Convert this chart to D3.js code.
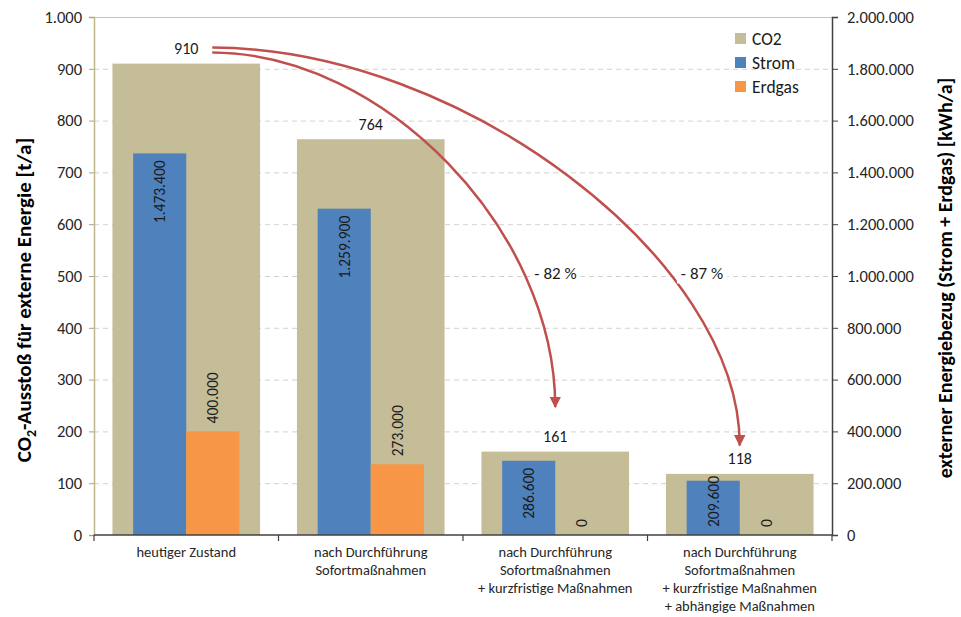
<!DOCTYPE html>
<html>
<head>
<meta charset="utf-8">
<script src="https://cdn.jsdelivr.net/npm/d3@7"></script>
<style>
  html, body { margin: 0; padding: 0; background: #fff; }
  svg { display: block; font-family: Carlito, Calibri, Lato, sans-serif; }
</style>
</head>
<body>
<svg id="chart" width="961" height="617"></svg>
<script>
// Scenario categories (multi-line axis labels)
const categories = [
  ["heutiger Zustand"],
  ["nach Durchführung", "Sofortmaßnahmen"],
  ["nach Durchführung", "Sofortmaßnahmen", "+ kurzfristige Maßnahmen"],
  ["nach Durchführung", "Sofortmaßnahmen", "+ kurzfristige Maßnahmen", "+ abhängige Maßnahmen"]
];
// CO2 emissions [t/a] (left axis)
const co2 = [910, 764, 161, 118];
// External energy supply [kWh/a] (right axis)
const strom = [1473400, 1259900, 286600, 209600];
const erdgas = [400000, 273000, 0, 0];
// Axis ticks
const leftTicks = [0, 100, 200, 300, 400, 500, 600, 700, 800, 900, 1000];
const rightTicks = [0, 200000, 400000, 600000, 800000, 1000000, 1200000, 1400000, 1600000, 1800000, 2000000];
// Reduction arrows: scenario indices and the t/a level where the arrow tip points
const reductions = [{ from: 0, to: 2, tip: 247 }, { from: 0, to: 3, tip: 173 }];
// Legend entries
const seriesNames = ["CO2", "Strom", "Erdgas"];
const seriesColors = ["#C4BD97", "#4F81BD", "#F79646"];

const de = d3.formatLocale({ decimal: ",", thousands: ".", grouping: [3], currency: ["", " €"] });
const fmt = de.format(",d");

const svg = d3.select("#chart");
const m = { left: 94, right: 832, top: 17, bottom: 535 };
const keys = categories.map((d, i) => i);

const x = d3.scaleBand().domain(keys).range([m.left, m.right]).paddingInner(0.2).paddingOuter(0.1);
const xSub = d3.scaleBand().domain(["strom", "erdgas"]).range([0, x.bandwidth()]).paddingOuter(0.39);
const yL = d3.scaleLinear().domain([0, 1000]).range([m.bottom, m.top]);
const yR = d3.scaleLinear().domain([0, 2000000]).range([m.bottom, m.top]);

// Gridlines
svg.append("g").selectAll("line").data(leftTicks.filter(t => t > 0)).join("line")
  .attr("x1", m.left).attr("x2", m.right)
  .attr("y1", d => yL(d) + 0.5).attr("y2", d => yL(d) + 0.5)
  .attr("stroke", d => d === 1000 ? "#c4c4c4" : "#d2d2d2")
  .attr("stroke-width", 1)
  .attr("stroke-dasharray", d => d === 1000 ? null : "5,4");

// CO2 bars
svg.append("g").selectAll("rect").data(co2).join("rect")
  .attr("x", (d, i) => x(i)).attr("width", x.bandwidth())
  .attr("y", d => yL(d)).attr("height", d => yL(0) - yL(d))
  .attr("fill", seriesColors[0]);

// Strom / Erdgas bars
const energy = keys.map(i => [
  { key: "strom", v: strom[i], i, color: seriesColors[1] },
  { key: "erdgas", v: erdgas[i], i, color: seriesColors[2] }
]).flat();

svg.append("g").selectAll("rect").data(energy).join("rect")
  .attr("x", d => x(d.i) + xSub(d.key)).attr("width", xSub.bandwidth())
  .attr("y", d => yR(d.v)).attr("height", d => yR(0) - yR(d.v))
  .attr("fill", d => d.color);

// Energy value labels, rotated to read bottom-to-top
const eLab = svg.append("g").attr("font-size", 15.5).attr("fill", "#1a1a1a");
energy.forEach(d => {
  const cx = x(d.i) + xSub(d.key) + xSub.bandwidth() / 2;
  const top = yR(d.v), base = yR(0);
  const t = eLab.append("text").text(fmt(d.v)).attr("dominant-baseline", "central");
  const len = t.node().getComputedTextLength();
  if (d.key === "strom") {
    // inside end; slide down to the baseline margin if the bar is too short
    let upper = top + 7;
    if (upper + len > base - 8) upper = base - 8 - len;
    t.attr("text-anchor", "start").attr("transform", `translate(${cx},${upper + len}) rotate(-90)`);
  } else {
    // outside end, just above the bar
    t.attr("text-anchor", "start").attr("transform", `translate(${cx},${top - 8}) rotate(-90)`);
  }
});

// Axes
const axL = svg.append("g").attr("transform", `translate(${m.left},0)`)
  .call(d3.axisLeft(yL).tickValues(leftTicks).tickFormat(fmt).tickSize(5).tickPadding(7));
axL.select(".domain").attr("stroke", "#BFB68C").attr("stroke-width", 1.5);
axL.selectAll(".tick line").attr("stroke", "#a0a0a0");

const axR = svg.append("g").attr("transform", `translate(${m.right},0)`)
  .call(d3.axisRight(yR).tickValues(rightTicks).tickFormat(fmt).tickSize(6).tickPadding(9));
axR.select(".domain").attr("stroke", "#404040").attr("stroke-width", 1.5);
axR.selectAll(".tick line").attr("stroke", "#404040");

[axL, axR].forEach(a => {
  a.attr("font-family", null).attr("font-size", null);
  a.selectAll(".tick text").attr("font-size", 16.5).attr("fill", "#262626");
});

// Category axis
const bounds = d3.range(categories.length + 1).map(i => m.left + i * x.step());
const axB = svg.append("g");
axB.append("line").attr("x1", m.left).attr("x2", m.right)
  .attr("y1", yL(0)).attr("y2", yL(0)).attr("stroke", "#404040").attr("stroke-width", 1.5);
axB.selectAll("line.tk").data(bounds).join("line").attr("class", "tk")
  .attr("x1", d => d).attr("x2", d => d)
  .attr("y1", yL(0)).attr("y2", yL(0) + 6).attr("stroke", "#404040").attr("stroke-width", 1.2);
axB.selectAll("text").data(categories).join("text")
  .attr("text-anchor", "middle").attr("font-size", 14.5).attr("fill", "#262626")
  .attr("transform", (d, i) => `translate(${x(i) + x.bandwidth() / 2},${yL(0) + 22})`)
  .selectAll("tspan").data(d => d).join("tspan")
  .attr("x", 0).attr("y", (d, j) => j * 18).text(d => d);

// Axis titles
const lt = svg.append("text").attr("font-size", 21).attr("font-weight", "bold").attr("fill", "#000")
  .attr("text-anchor", "middle")
  .attr("transform", `translate(31,${(m.top + m.bottom) / 2 + 24}) rotate(-90)`);
lt.append("tspan").text("CO");
lt.append("tspan").text("2").attr("font-size", 14).attr("dy", 5);
lt.append("tspan").text("-Ausstoß für externe Energie [t/a]").attr("dy", -5);

svg.append("text").attr("font-size", 20).attr("font-weight", "bold").attr("fill", "#000")
  .attr("text-anchor", "middle")
  .attr("transform", `translate(952,${(m.top + m.bottom) / 2 + 2}) rotate(-90)`)
  .text("externer Energiebezug (Strom + Erdgas) [kWh/a]");

// Arrow marker
svg.append("defs").append("marker")
  .attr("id", "arrowhead").attr("viewBox", "0 0 10 10")
  .attr("refX", 9).attr("refY", 5)
  .attr("markerWidth", 4.6).attr("markerHeight", 4.6)
  .attr("markerUnits", "strokeWidth").attr("orient", "auto")
  .append("path").attr("d", "M0,0 L10,5 L0,10 Z").attr("fill", "#C0504D");

// CO2 value labels with white backing
const labelY = (i) => yL(co2[i]) - 15;
const cLab = svg.append("g");
co2.forEach((v, i) => {
  const g = cLab.append("g");
  const t = g.append("text").text(fmt(v))
    .attr("x", x(i) + x.bandwidth() / 2).attr("y", labelY(i))
    .attr("text-anchor", "middle").attr("dominant-baseline", "central")
    .attr("font-size", 16).attr("fill", "#1a1a1a");
  const bb = t.node().getBBox();
  g.insert("rect", "text").attr("x", bb.x - 3).attr("y", bb.y).attr("width", bb.width + 6)
    .attr("height", bb.height).attr("fill", "#fff");
});

// Reduction arrows
const arrows = svg.append("g");
reductions.forEach((r, k) => {
  const sx = x(r.from) + x.bandwidth() / 2 + 26;
  const sy = labelY(r.from) + (k === 0 ? 4 : -1);
  const ex = x(r.to) + x.bandwidth() / 2;
  const ey = yL(r.tip);
  const kk = k === 0 ? 0.5 : 0.47;
  const c1 = [sx + kk * (ex - sx), sy];
  const c2 = [ex, ey - kk * (ey - sy)];
  arrows.append("path")
    .attr("d", `M${sx},${sy} C${c1[0]},${c1[1]} ${c2[0]},${c2[1]} ${ex},${ey}`)
    .attr("fill", "none").attr("stroke", "#C0504D").attr("stroke-width", 2.5)
    .attr("marker-end", "url(#arrowhead)");

  // Percentage label where the curve crosses the 500 t/a level
  const target = yL(500);
  const bz = (t, a, b, c, d) => (1 - t) ** 3 * a + 3 * (1 - t) ** 2 * t * b + 3 * (1 - t) * t * t * c + t ** 3 * d;
  let lo = 0, hi = 1;
  for (let n = 0; n < 40; n++) {
    const mid = (lo + hi) / 2;
    if (bz(mid, sy, c1[1], c2[1], ey) < target) lo = mid; else hi = mid;
  }
  const px = bz(lo, sx, c1[0], c2[0], ex);
  const pct = Math.round((co2[r.from] - co2[r.to]) / co2[r.from] * 100);
  const g = arrows.append("g");
  const t = g.append("text").text(`- ${pct} %`)
    .attr("x", px + 9).attr("y", target - 3)
    .attr("text-anchor", "start").attr("dominant-baseline", "central")
    .attr("font-size", 17).attr("fill", "#1a1a1a");
  const bb = t.node().getBBox();
  g.insert("rect", "text").attr("x", bb.x - 4).attr("y", bb.y).attr("width", bb.width + 8)
    .attr("height", bb.height).attr("fill", "#fff");
});

// Legend
const leg = svg.append("g").attr("transform", "translate(735,33)");
seriesNames.forEach((n, i) => {
  leg.append("rect").attr("x", 0).attr("y", i * 24).attr("width", 11).attr("height", 11)
    .attr("fill", seriesColors[i]);
  leg.append("text").attr("x", 17).attr("y", i * 24 + 6).attr("dominant-baseline", "central")
    .attr("font-size", 17.5).attr("fill", "#1a1a1a").text(n);
});
</script>
</body>
</html>
